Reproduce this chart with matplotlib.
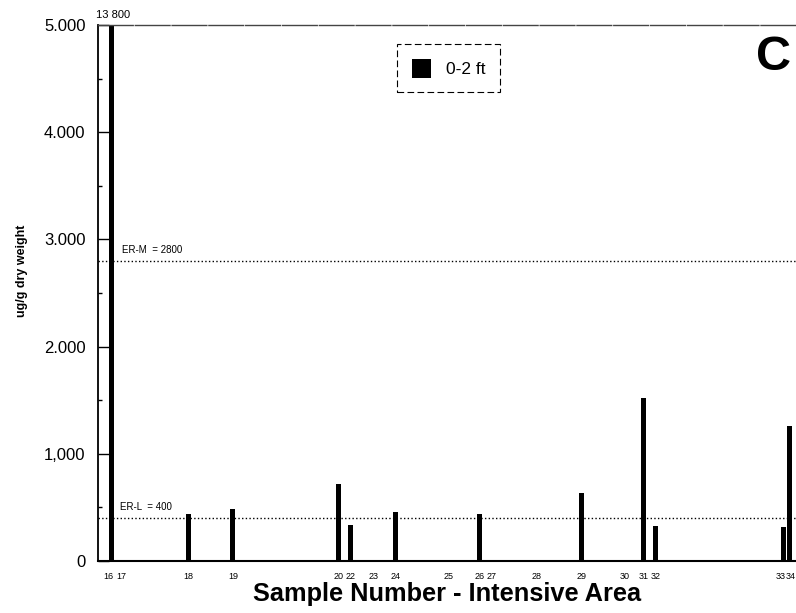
import numpy as np
import matplotlib.pyplot as plt
import matplotlib.transforms as mtransforms

plt.rcParams['font.family'] = ['Liberation Sans', 'DejaVu Sans']

# Sample stations of the intensive area, x = relative distance along the area
samples = ['16', '17', '18', '19', '20', '22', '23', '24', '25',
           '26', '27', '28', '29', '30', '31', '32', '33', '34']
station_x = [1.9, 3.4, 12.9, 19.3, 34.4, 36.1, 39.5, 42.6, 50.1,
             54.6, 56.3, 62.8, 69.2, 75.4, 78.1, 79.8, 98.1, 98.9]
# ug/g dry weight, 0-2 ft layer (nan = no bar drawn)
nan = np.nan
conc_0_2ft = [13800, nan, 440, 485, 715, 335, nan, 455, nan,
              440, nan, nan, 635, nan, 1520, 325, 315, 1260]

er_m = 2800
er_l = 400
ytick_vals = [0, 1000, 2000, 3000, 4000, 5000]
ytick_labels = ['0', '1,000', '2.000', '3.000', '4.000', '5.000']

fig = plt.figure(figsize=(7.96, 6.13), dpi=100)
ax = fig.add_axes([0.1231, 0.0848, 0.878, 0.8744])

x = np.array(station_x)
y = np.array(conc_0_2ft, dtype=float)
has_bar = ~np.isnan(y)
ax.bar(x[has_bar], y[has_bar], width=0.75, color='black', linewidth=0, label='0-2 ft')

ax.set_xlim(0, 100)
ax.set_ylim(0, 5000)

# guideline levels
ax.axhline(er_m, color='black', linestyle=':', linewidth=1)
ax.axhline(er_l, color='black', linestyle=':', linewidth=1)
ax.annotate('ER-M  = 2800', (3.4, er_m), xytext=(0, 8), textcoords='offset points',
            fontsize=7, va='center', ha='left')
ax.annotate('ER-L  = 400', (3.1, er_l), xytext=(0, 8), textcoords='offset points',
            fontsize=7, va='center', ha='left')

# value of the clipped bar
ax.annotate('13 800', (x[0], 5000), xytext=(1.5, 7), textcoords='offset points',
            fontsize=8, ha='center', va='center', annotation_clip=False)

ax.text(0.966, 0.94, 'C', transform=ax.transAxes, fontsize=35, fontweight='bold',
        ha='center', va='center')

# axes styling
ax.set_yticks(ytick_vals)
ax.set_yticklabels(ytick_labels)
ax.set_yticks(np.arange(500, 5000, 1000), minor=True)
ax.tick_params(axis='y', which='major', direction='in', length=8, width=1,
               labelsize=12, pad=9)
ax.tick_params(axis='y', which='minor', direction='in', length=3, width=1)

ax.set_xticks(station_x)
ax.set_xticklabels(samples)
ax.tick_params(axis='x', length=0, labelsize=6.5, pad=8)


def nudge(label, dx_px):
    label.set_transform(label.get_transform() +
                        mtransforms.ScaledTranslation(dx_px / 100, 0, fig.dpi_scale_trans))


labels = ax.get_xticklabels()
nudge(labels[0], -3)
nudge(labels[-2], -3)
nudge(labels[-1], 1.5)

ax.spines['right'].set_visible(False)
ax.spines['top'].set_linestyle((0, (25, 1.5)))
ax.spines['top'].set_linewidth(1)
ax.spines['top'].set_color('#444444')
ax.spines['left'].set_linewidth(1.3)
ax.spines['bottom'].set_linewidth(1.5)

ax.set_xlabel('Sample Number - Intensive Area', fontsize=18.3, fontweight='bold')
ax.xaxis.set_label_coords(0.5, -0.040)
ax.set_ylabel('ug/g dry weight', fontsize=9, fontweight='bold')
ax.yaxis.set_label_coords(-0.100, 0.541)

leg = ax.legend(loc='center', bbox_to_anchor=(0.502, 0.919), fontsize=12.5,
                handlelength=1.1, handleheight=1.25, handletextpad=0.85,
                borderpad=0.85, fancybox=False, edgecolor='black', framealpha=1)
leg.get_frame().set_linestyle((0, (6, 3)))
leg.get_frame().set_linewidth(0.8)

fig.savefig('out.png', dpi=100)
